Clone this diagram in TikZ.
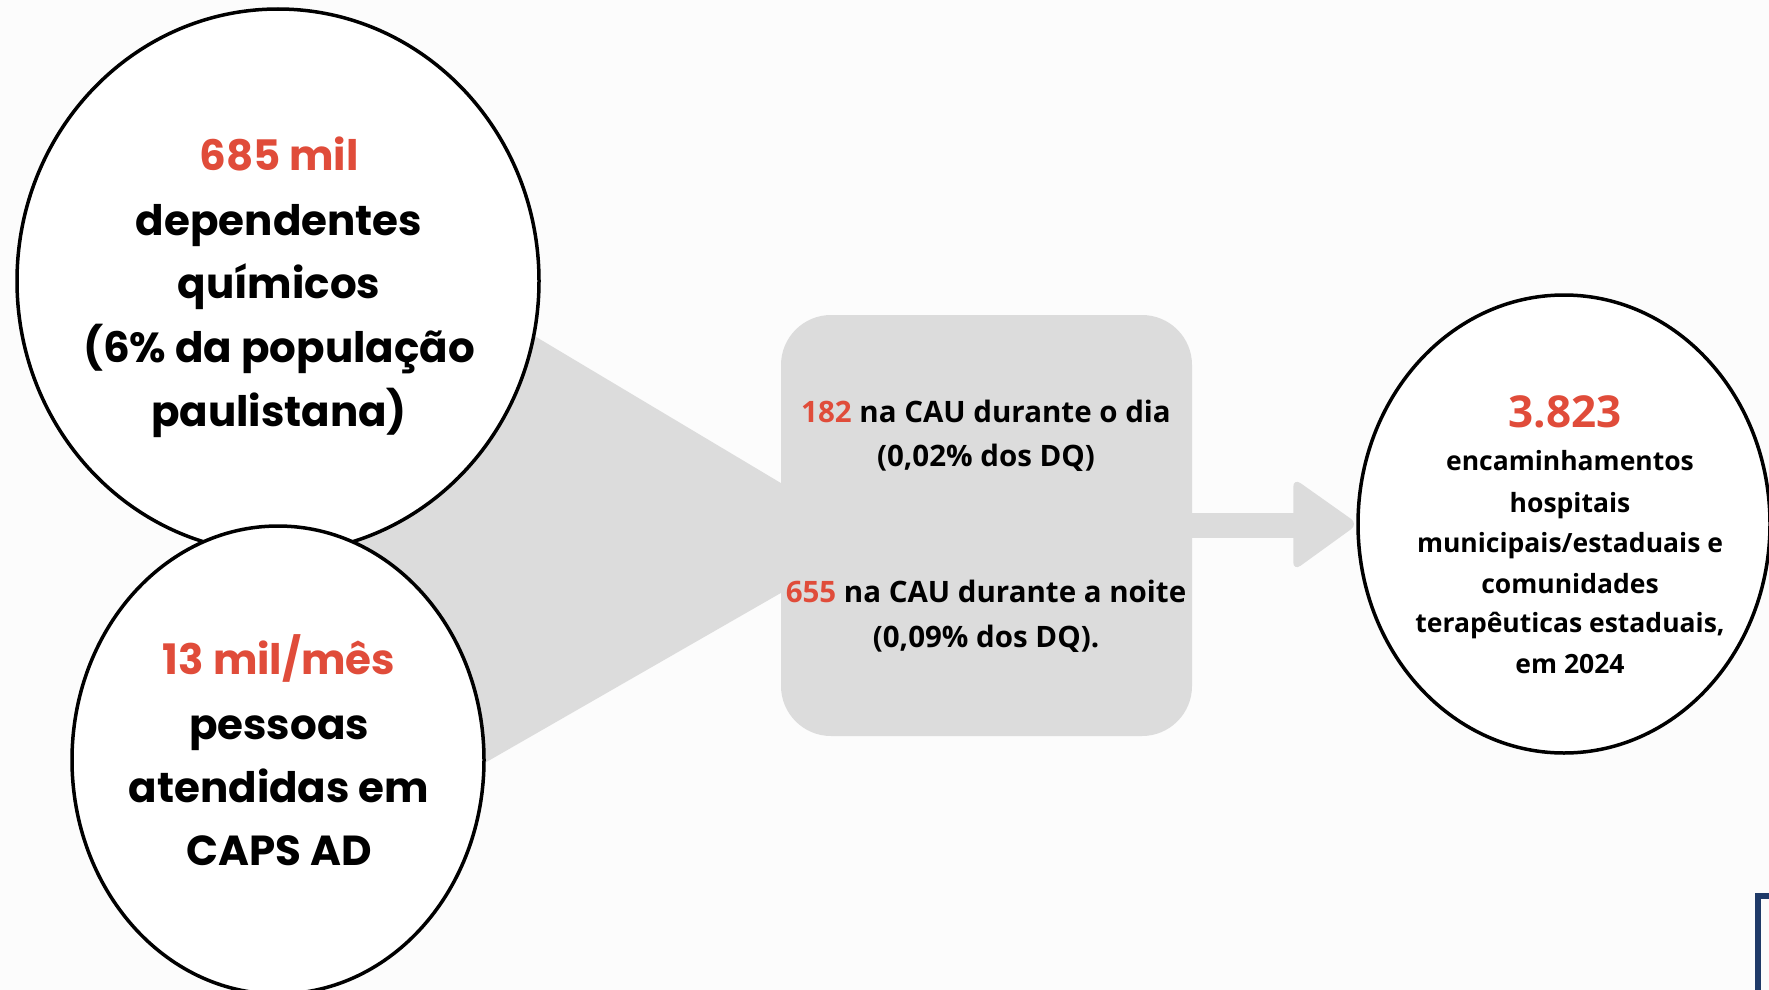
\documentclass[tikz,border=0pt]{standalone}
\usepackage{fontspec}
\setmainfont{Open Sans}
\newfontfamily\pop{Poppins}
\usetikzlibrary{shapes.geometric}
\definecolor{accent}{HTML}{E04C3A}
\definecolor{funnel}{HTML}{DCDCDC}
\definecolor{bgc}{HTML}{FCFCFC}
\definecolor{navy}{HTML}{1F3A68}
\tikzset{
  bubble/.style={ellipse, draw=black, line width=3.5pt, fill=white, inner sep=0pt},
  bigtxt/.style={anchor=base, inner sep=0pt, font=\pop\bfseries\fontsize{42}{50}\selectfont},
  boxtxt/.style={anchor=base, inner sep=0pt, font=\bfseries\fontsize{29.5}{35}\selectfont},
  rctxt/.style={anchor=base, inner sep=0pt, font=\bfseries\fontsize{26.5}{32}\selectfont},
}
\begin{document}
\begin{tikzpicture}[x=1pt,y=-1pt]
\useasboundingbox (0,0) rectangle (1769,990);
\clip (0,0) rectangle (1769,990);
\fill[bgc] (0,0) rectangle (1769,990);
% central box
\node[rectangle, rounded corners=50pt, fill=funnel, minimum width=411pt, minimum height=421pt, inner sep=0pt] (box) at (986.5,525.5) {};
% funnel
\fill[funnel] (300,196) -- ([yshift=42.5pt]box.west) -- ([yshift=-67.5pt]box.west) -- (300,869) -- cycle;
% circles
\node[bubble, minimum width=522pt, minimum height=544pt] (top) at (278,281) {};
\node[bubble, minimum width=412pt, minimum height=468pt] (low) at (278,760) {};
\node[bubble, minimum width=412pt, minimum height=458pt] (rc) at (1564,524) {};
% arrow
\coordinate (ahead) at ([xshift=-63pt]rc.west);
\fill[funnel] ([xshift=-4pt,yshift=-12pt]box.east) rectangle ([xshift=6pt,yshift=11.5pt]ahead);
\fill[funnel, rounded corners=9pt] ([yshift=-47pt]ahead) -- ([xshift=2pt]rc.west) -- ([yshift=46pt]ahead) -- cycle;
% navy frame corner
\draw[navy, line width=5.7pt] (1757.85,895.85) rectangle (1820,1040);
% top circle text
\node[bigtxt, text=accent] (t1) at (279,170) {685 mil};
\node[bigtxt] (t2) at (279,235) {dependentes};
\node[bigtxt] (t3) at (279,298) {químicos};
\node[bigtxt] (t4) at (279,362) {(6\% da população};
\node[bigtxt] (t5) at (279,426) {paulistana)};
% lower circle text
\node[bigtxt, text=accent] (l1) at (279,674) {13 mil/mês};
\node[bigtxt] (l2) at (279,739) {pessoas};
\node[bigtxt] (l3) at (279,802) {atendidas em};
\node[bigtxt] (l4) at (279,865) {CAPS AD};
% box text
\node[boxtxt] (b1) at (986,422) {\textcolor{accent}{182} na CAU durante o dia};
\node[boxtxt] (b2) at (986,466) {(0,02\% dos DQ)};
\node[boxtxt] (b3) at (986,602) {\textcolor{accent}{655} na CAU durante a noite};
\node[boxtxt] (b4) at (986,647) {(0,09\% dos DQ).};
% right circle text
\node[anchor=base, inner sep=0pt, font=\bfseries\fontsize{44}{50}\selectfont, text=accent] (r0) at (1565,427) {3.823};
\node[rctxt] (r1) at (1570,470) {encaminhamentos};
\node[rctxt] (r2) at (1570,512) {hospitais};
\node[rctxt] (r3) at (1570,552) {municipais/estaduais e};
\node[rctxt] (r4) at (1570,593) {comunidades};
\node[rctxt] (r5) at (1570,632) {terapêuticas estaduais,};
\node[rctxt] (r6) at (1570,673) {em 2024};
\end{tikzpicture}
\end{document}
